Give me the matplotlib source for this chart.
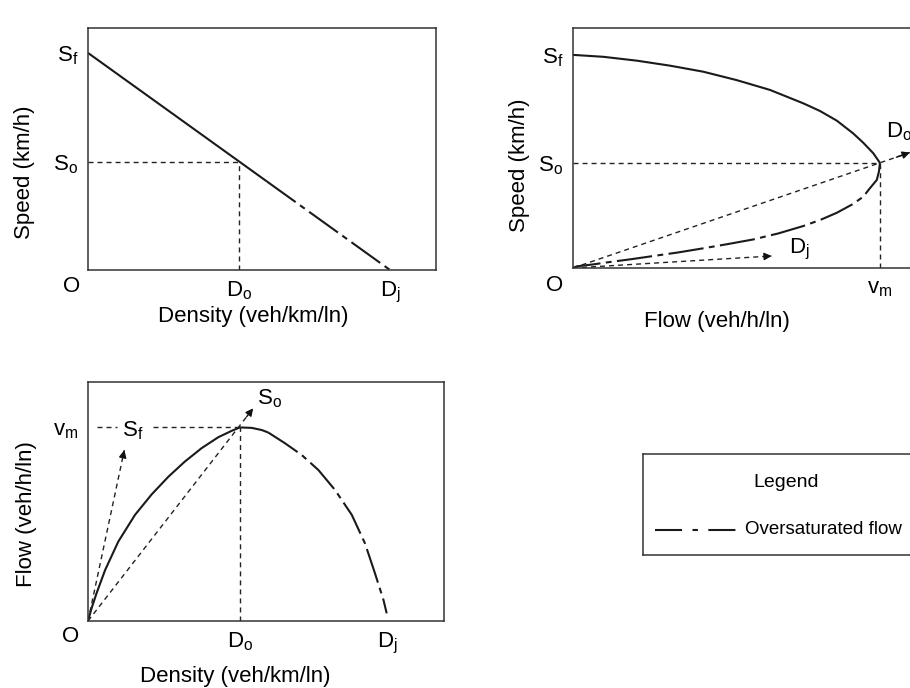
import matplotlib
matplotlib.use('Agg')
import matplotlib.pyplot as plt
from matplotlib.lines import Line2D

plt.rcParams['font.family'] = ['Liberation Sans Narrow', 'Liberation Sans', 'DejaVu Sans']
plt.rcParams['mathtext.default'] = 'regular'
plt.rcParams['font.size'] = 16

# all values in percent of the plot box
# speed vs density (top left)
sd_density_solid = [0, 51.4]
sd_speed_solid = [89.7, 36.6]
sd_density_over = [51.4, 86.8]
sd_speed_over = [36.6, 0]
sd_Do, sd_So, sd_Sf, sd_Dj = 43.4, 44.6, 89.7, 86.8

# speed vs flow (top right)
sf_speed_solid = [88.8, 88.0, 86.4, 84.3, 81.8, 78.3, 74.2, 68.6, 65.4, 61.4, 56.1, 52.2, 47.8, 43.8]
sf_flow_solid = [0, 8.7, 18.3, 27.9, 37.4, 47.0, 56.6, 66.2, 71.0, 75.8, 80.5, 83.4, 86.3, 88.2]
sf_speed_over = [43.8, 40.1, 36.7, 33.2, 29.7, 26.7, 23.0, 20.0, 17.5, 14.4, 11.9, 10.0, 8.2, 6.5,
                 5.0, 3.6, 2.5, 1.5, 0.7, 0]
sf_flow_over = [88.2, 87.9, 87.3, 85.3, 83.4, 80.5, 75.8, 71.0, 66.2, 59.0, 51.8, 44.6, 37.4, 30.3,
                23.1, 16.4, 10.6, 5.8, 1.1, 0]
sf_vm, sf_So, sf_Sf = 88.2, 43.8, 88.8
sf_Do_tip = (96.8, 48.1)
sf_Dj_tip = (57.1, 5.0)

# flow vs density (bottom left)
fd_density_solid = [0, 1.0, 2.4, 4.8, 8.5, 13.2, 17.9, 22.6, 27.2, 31.9, 36.6, 40.4, 42.7, 46.0, 48.8, 50.6]
fd_flow_solid = [0, 5.3, 11.6, 21.3, 33.2, 44.4, 53.0, 60.4, 66.7, 72.3, 76.9, 79.6, 81.0, 80.8, 79.9, 78.9]
fd_density_over = [50.6, 55.3, 60.0, 64.7, 69.4, 74.1, 77.8, 80.6, 83.0, 83.9]
fd_flow_over = [78.9, 74.4, 69.5, 63.2, 54.8, 44.4, 32.5, 20.0, 8.8, 3.2]
fd_Do, fd_vm, fd_Dj = 42.7, 81.0, 84.0
fd_Sf_tip = (10.2, 71.5)
fd_So_tip = (46.4, 89.0)

curve_kw = dict(color='#1a1a1a', lw=1.5, solid_capstyle='butt', solid_joinstyle='round')
over_ls = (0, (17, 2.6, 2.8, 2.6))
ref_kw = dict(color='#222222', lw=1.0, linestyle=(0, (3.6, 2.9)))

W, H = 910, 688
fig = plt.figure(figsize=(9.1, 6.88), dpi=100)


def box(l, r, t, b):
    return [l / W, (H - b) / H, (r - l) / W, (b - t) / H]


def setup(ax):
    ax.set_xlim(0, 100)
    ax.set_ylim(0, 100)
    for s in ax.spines.values():
        s.set_color('#333333')
        s.set_linewidth(1.1)
    ax.tick_params(length=0, pad=7, labelsize=16)


def arrow(ax, tip):
    ax.plot([0, tip[0]], [0, tip[1]], **ref_kw)
    back = (tip[0] * 0.96, tip[1] * 0.96)
    ax.annotate('', xy=tip, xytext=back,
                arrowprops=dict(arrowstyle='-|>', color='#111111', lw=1.0,
                                shrinkA=0, shrinkB=0, mutation_scale=11))


# top left: speed vs density
ax1 = fig.add_axes(box(88, 436, 28, 270))
setup(ax1)
ax1.plot(sd_density_solid, sd_speed_solid, **curve_kw)
ax1.plot(sd_density_over, sd_speed_over, linestyle=over_ls, **curve_kw)
ax1.plot([0, sd_Do], [sd_So, sd_So], **ref_kw)
ax1.plot([sd_Do, sd_Do], [0, sd_So], **ref_kw)
ax1.set_xticks([sd_Do, sd_Dj], [r'$D_o$', r'$D_j$'])
ax1.set_yticks([sd_Sf, sd_So], [r'$S_f$', r'$S_o$'])
ax1.text(-0.046, -0.07, 'O', transform=ax1.transAxes, ha='center', va='center', fontsize=16)
ax1.set_xlabel('Density (veh/km/ln)')
ax1.set_ylabel('Speed (km/h)')
ax1.xaxis.set_label_coords(0.474, -0.15)
ax1.yaxis.set_label_coords(-0.152, 0.405)

# top right: speed vs flow
ax2 = fig.add_axes(box(573, 921, 28, 268))
setup(ax2)
ax2.plot(sf_flow_solid, sf_speed_solid, **curve_kw)
ax2.plot(sf_flow_over, sf_speed_over, linestyle=over_ls, **curve_kw)
ax2.plot([0, sf_vm], [sf_So, sf_So], **ref_kw)
ax2.plot([sf_vm, sf_vm], [0, sf_So], **ref_kw)
arrow(ax2, sf_Do_tip)
arrow(ax2, sf_Dj_tip)
ax2.text(sf_Do_tip[0] - 7, sf_Do_tip[1] + 4, r'$D_o$', ha='left', va='bottom', fontsize=16)
ax2.text(sf_Dj_tip[0] + 5, sf_Dj_tip[1] - 2.5, r'$D_j$', ha='left', va='bottom', fontsize=16)
ax2.set_xticks([sf_vm], [r'$v_m$'])
ax2.set_yticks([sf_Sf, sf_So], [r'$S_f$', r'$S_o$'])
ax2.text(-0.052, -0.071, 'O', transform=ax2.transAxes, ha='center', va='center', fontsize=16)
ax2.set_xlabel('Flow (veh/h/ln)')
ax2.set_ylabel('Speed (km/h)')
ax2.xaxis.set_label_coords(0.414, -0.18)
ax2.yaxis.set_label_coords(-0.124, 0.43)

# bottom left: flow vs density
ax3 = fig.add_axes(box(88, 444, 382, 621))
setup(ax3)
ax3.plot(fd_density_solid, fd_flow_solid, **curve_kw)
ax3.plot(fd_density_over, fd_flow_over, linestyle=over_ls, **curve_kw)
ax3.plot([2.5, 8.1], [fd_vm, fd_vm], **ref_kw)
ax3.plot([18.3, fd_Do], [fd_vm, fd_vm], **ref_kw)
ax3.plot([fd_Do, fd_Do], [0, fd_vm], **ref_kw)
arrow(ax3, fd_Sf_tip)
arrow(ax3, fd_So_tip)
ax3.text(9.5, fd_vm - 1.5, r'$S_f$', ha='left', va='center', fontsize=16)
ax3.text(fd_So_tip[0] + 1.2, fd_So_tip[1] + 4, r'$S_o$', ha='left', va='center', fontsize=16)
ax3.set_xticks([fd_Do, fd_Dj], [r'$D_o$', r'$D_j$'])
ax3.set_yticks([fd_vm], [r'$v_m$'])
ax3.text(-0.05, -0.063, 'O', transform=ax3.transAxes, ha='center', va='center', fontsize=16)
ax3.set_xlabel('Density (veh/km/ln)')
ax3.set_ylabel('Flow (veh/h/ln)')
ax3.xaxis.set_label_coords(0.413, -0.19)
ax3.yaxis.set_label_coords(-0.143, 0.448)

# legend box
axl = fig.add_axes(box(643, 930, 454, 555))
axl.set_xticks([])
axl.set_yticks([])
for s in axl.spines.values():
    s.set_color('#333333')
    s.set_linewidth(1.1)
axl.text(0.50, 0.72, 'Legend', ha='center', va='center', fontsize=14, transform=axl.transAxes)
axl.add_line(Line2D([0.042, 0.338], [0.25, 0.25], transform=axl.transAxes,
                    color='#1a1a1a', lw=1.5, linestyle=(0, (13, 5, 2.6, 5))))
axl.text(0.355, 0.25, 'Oversaturated flow', ha='left', va='center', fontsize=13.5,
         transform=axl.transAxes)

plt.savefig('out.png', dpi=100)
